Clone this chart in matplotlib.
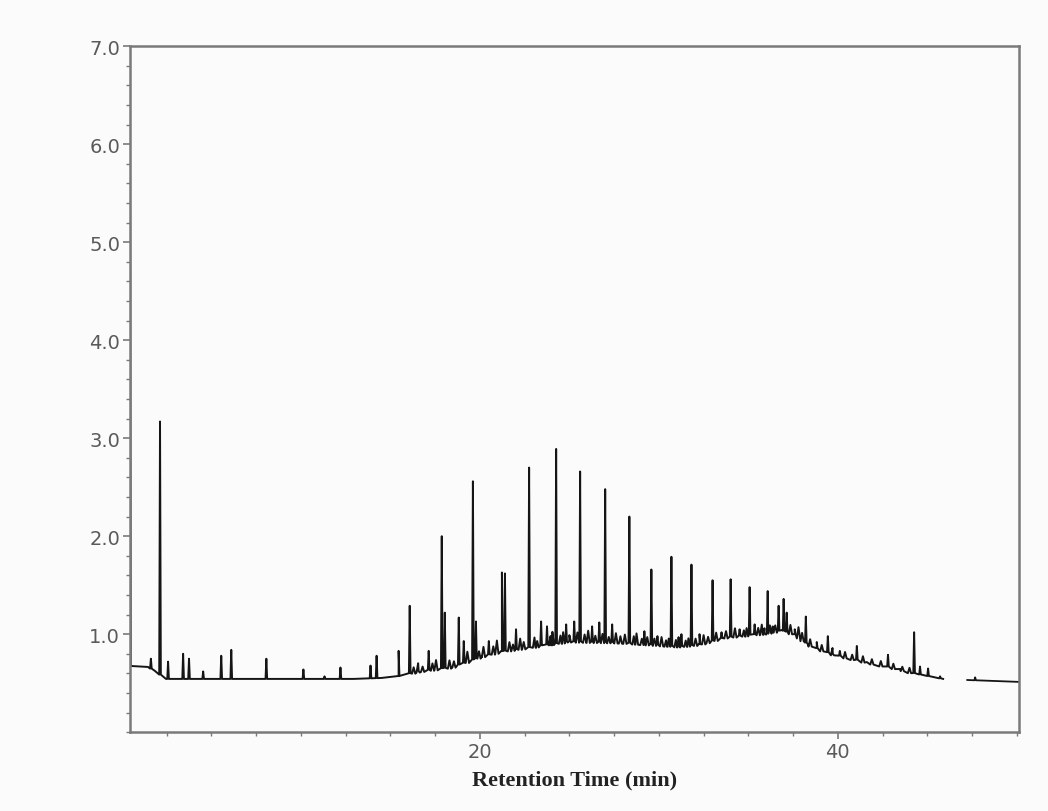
import numpy as np
import matplotlib
matplotlib.use("Agg")
import matplotlib.pyplot as plt
from matplotlib.ticker import MultipleLocator, FixedLocator, FormatStrFormatter

# ---- data ----
# baseline of the main run (retention time in min, signal)
base_x = [0.45, 1.46, 1.85, 2.46, 12.94, 14.51, 15.46, 16.58, 18.43, 19.38, 20.11,
          21.23, 23.14, 24.99, 27.79, 29.47, 31.15, 32.27, 33.67, 35.91, 36.86,
          37.59, 38.32, 38.82, 39.72, 41.62, 43.47, 44.43, 45.88]
base_y = [0.676, 0.666, 0.625, 0.544, 0.544, 0.554, 0.574, 0.625, 0.666, 0.727, 0.777,
          0.828, 0.879, 0.930, 0.920, 0.899, 0.879, 0.899, 0.970, 1.011, 1.042,
          1.001, 0.899, 0.859, 0.798, 0.716, 0.645, 0.595, 0.544]
# late tail segment after the gap
tail_x = [47.23, 50.2]
tail_y = [0.533, 0.513]

# resolved peaks: retention time and apex signal
peak_x = [0.45, 1.62, 2.13, 2.58, 3.42, 3.75, 4.54, 5.55, 6.11, 8.07, 10.14, 11.32,
          12.21, 13.89, 14.23, 15.46, 16.08, 17.14, 17.87, 18.04, 18.82, 19.10,
          19.61, 19.78, 20.50, 21.23, 21.40, 22.02, 22.75, 23.42, 23.75, 24.26,
          24.82, 25.27, 25.60, 26.27, 26.67, 27.00, 27.39, 28.35, 29.19, 29.58,
          29.92, 30.70, 31.26, 31.82, 32.27, 33.00, 33.50, 34.01, 34.51, 35.07,
          35.35, 36.08, 36.36, 36.69, 36.97, 37.14, 37.59, 38.21, 38.82, 39.44,
          40.11, 41.06, 42.80, 44.26, 44.59, 45.04, 45.71]
peak_h = [6.60, 0.75, 3.17, 0.72, 0.80, 0.75, 0.62, 0.78, 0.84, 0.75, 0.64, 0.57,
          0.66, 0.68, 0.78, 0.83, 1.29, 0.83, 2.00, 1.22, 1.17, 0.93,
          2.56, 1.13, 0.93, 1.63, 1.62, 1.05, 2.70, 1.13, 1.08, 2.89,
          1.10, 1.13, 2.66, 1.08, 1.12, 2.48, 1.10, 2.20, 1.03, 1.66,
          0.98, 1.79, 1.00, 1.71, 1.00, 1.55, 1.02, 1.56, 1.05, 1.48,
          1.10, 1.44, 1.08, 1.29, 1.36, 1.22, 1.05, 1.18, 0.92, 0.98,
          0.83, 0.88, 0.79, 1.02, 0.67, 0.65, 0.57]
# small unresolved bumps riding on the hump (time, height above baseline)
bump_x = [16.30, 16.55, 16.80, 17.35, 17.55, 18.30, 18.55, 19.30, 19.95, 20.20,
          20.75, 20.95, 21.65, 21.85, 22.25, 22.45, 23.05, 23.20, 23.95, 24.05,
          24.50, 24.65, 25.00, 25.45, 25.85, 26.05, 26.45, 26.85, 27.20, 27.60,
          27.85, 28.10, 28.60, 28.75, 29.05, 29.35, 29.75, 30.15, 30.40, 30.55,
          30.95, 31.10, 31.50, 31.65, 32.05, 32.50, 32.75, 33.20, 33.75, 34.25,
          34.75, 34.90, 35.55, 35.75, 35.90, 36.20, 36.50, 37.35, 37.80, 38.00,
          38.45, 39.10, 39.70, 40.40, 40.80, 41.40, 41.90, 42.40, 43.10, 43.60, 44.00]
bump_dh = [0.05, 0.08, 0.04, 0.06, 0.09, 0.07, 0.05, 0.10, 0.06, 0.09,
           0.07, 0.12, 0.08, 0.05, 0.10, 0.06, 0.09, 0.05, 0.08, 0.12,
           0.07, 0.10, 0.06, 0.09, 0.07, 0.11, 0.06, 0.08, 0.05, 0.09,
           0.06, 0.08, 0.07, 0.10, 0.05, 0.07, 0.06, 0.08, 0.05, 0.07,
           0.06, 0.09, 0.05, 0.07, 0.06, 0.08, 0.05, 0.07, 0.06, 0.08,
           0.05, 0.07, 0.06, 0.09, 0.05, 0.07, 0.06, 0.08, 0.10, 0.07,
           0.06, 0.05, 0.06, 0.05, 0.04, 0.05, 0.04, 0.04, 0.04, 0.03, 0.04]
tail_peak_x = [47.67]
tail_peak_h = [0.56]

y_ticks = [1.0, 2.0, 3.0, 4.0, 5.0, 6.0, 7.0]
x_ticks = [20, 40]
x_label = "Retention Time (min)"


def build_trace(bx, by, px, ph, qx=(), qdh=(), w=0.045, wq=0.09):
    xs = list(bx)
    ys = list(by)
    for x, h in zip(px, ph):
        b = float(np.interp(x, bx, by))
        xs += [x - w, x, x + w]
        ys += [b, h, b]
    for x, dh in zip(qx, qdh):
        b = float(np.interp(x, bx, by))
        xs += [x - wq, x, x + wq]
        ys += [b - 0.015, b + dh, b - 0.015]
    order = np.argsort(xs, kind="stable")
    return np.asarray(xs)[order], np.asarray(ys)[order]


fig = plt.figure(figsize=(10.48, 8.12), dpi=100, facecolor="#fbfbfb")
ax = fig.add_axes([0.124, 0.097, 0.848, 0.845])
ax.set_facecolor("#fbfbfb")

mx, my = build_trace(base_x, base_y, peak_x, peak_h, bump_x, bump_dh)
tx, ty = build_trace(tail_x, tail_y, tail_peak_x, tail_peak_h)
ax.plot(mx, my, color="#151515", lw=1.4, zorder=2)
ax.plot(tx, ty, color="#151515", lw=1.3, zorder=2)

ax.set_xlim(0.45, 50.1)
ax.set_ylim(0, 7.0)

ax.yaxis.set_major_locator(FixedLocator(y_ticks))
ax.yaxis.set_major_formatter(FormatStrFormatter("%.1f"))
ax.yaxis.set_minor_locator(MultipleLocator(0.2))
ax.xaxis.set_major_locator(FixedLocator(x_ticks))
ax.xaxis.set_minor_locator(MultipleLocator(2.5))

for s in ax.spines.values():
    s.set_color("#7a7a7a")
    s.set_linewidth(1.8)
    s.set_zorder(3)

ax.tick_params(axis="both", which="major", direction="out", length=5, width=1.2,
               color="#7a7a7a", labelcolor="#5a5a5a", labelsize=14, pad=2)
ax.tick_params(axis="both", which="minor", direction="out", length=3, width=1.0,
               color="#7a7a7a")

ax.set_xlabel(x_label, fontfamily="Liberation Serif", fontweight="bold",
              fontsize=16, color="#222222", labelpad=6)

fig.savefig("out.png", dpi=100, facecolor=fig.get_facecolor())
